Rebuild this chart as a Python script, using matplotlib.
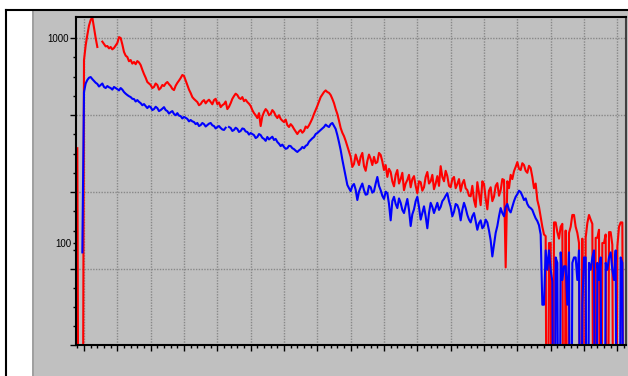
import numpy as np
import matplotlib
matplotlib.use('Agg')
import matplotlib.pyplot as plt
from matplotlib.patches import Rectangle
from matplotlib.lines import Line2D

plt.rcParams['font.family'] = ['Liberation Sans', 'DejaVu Sans']
nan = np.nan

# channel axis (no labels on the original)
channels = np.arange(-20, 1621, 5)

# red spectrum, counts
red = [
    290, 1, 1, 1, 780, 920, 1035, 1150, 1224, 1260,
    1119, 1000, 904, nan, nan, 960, 935, 910, 914, 890,
    904, 880, 894, 920, 945, 1010, 1000, 930, 855, 820,
    808, 770, 781, 750, 764, 745, 772, 760, 738, 700,
    667, 640, 610, 600, 590, 570, 577, 600, 590, 560,
    570, 590, 583, 600, 610, 595, 583, 565, 557, 585,
    604, 620, 638, 660, 653, 620, 590, 560, 539, 515,
    504, 495, 487, 470, 476, 490, 498, 480, 492, 500,
    487, 475, 498, 505, 476, 485, 460, 470, 476, 490,
    450, 462, 481, 505, 521, 535, 527, 510, 504, 515,
    492, 500, 487, 478, 466, 445, 430, 420, 407, 430,
    372, 415, 435, 450, 440, 420, 426, 445, 435, 418,
    407, 420, 403, 395, 389, 400, 376, 368, 380, 372,
    360, 350, 340, 350, 356, 345, 352, 370, 364, 375,
    389, 405, 426, 445, 466, 490, 515, 530, 545, 555,
    545, 540, 527, 505, 481, 450, 426, 395, 364, 345,
    332, 315, 297, 280, 263, 235, 243, 270, 254, 240,
    263, 275, 237, 225, 251, 270, 257, 240, 263, 245,
    248, 275, 269, 250, 227, 240, 210, 230, 222, 200,
    189, 215, 227, 195, 205, 220, 181, 195, 203, 215,
    187, 205, 212, 190, 175, 200, 198, 180, 187, 210,
    222, 195, 200, 215, 183, 195, 212, 190, 237, 210,
    200, 225, 212, 190, 187, 205, 210, 185, 194, 205,
    179, 195, 203, 185, 181, 170, 169, 190, 162, 150,
    198, 175, 153, 200, 194, 165, 146, 180, 187, 160,
    168, 190, 196, 170, 181, 205, 203, 76, 200, 185,
    215, 205, 224, 235, 248, 230, 227, 245, 240, 225,
    220, 238, 232, 210, 185, 195, 162, 150, 134, 120,
    110, 108, 1, 100, 100, 1, 126, 126, 113, 105,
    120, 124, 1, 115, 1, 112, 120, 137, 137, 120,
    112, 100, 1, 105, 1, 106, 125, 137, 130, 124,
    1, 106, 106, 116, 1, 100, 100, 110, 1, 113,
    113, 98, 1, 1, 96, 120, 126, 126, 1,
]

# blue spectrum, counts
blue = [
    nan, nan, nan, 90, 545, 600, 624, 640, 645, 630,
    617, 605, 597, 580, 590, 600, 577, 570, 583, 575,
    570, 560, 577, 570, 563, 555, 570, 560, 545, 535,
    527, 520, 515, 505, 504, 490, 498, 488, 481, 470,
    476, 465, 455, 465, 460, 445, 450, 462, 455, 440,
    445, 452, 460, 445, 440, 428, 435, 440, 426, 420,
    430, 418, 416, 405, 412, 408, 403, 392, 398, 392,
    389, 380, 385, 372, 376, 385, 380, 370, 376, 382,
    385, 375, 372, 362, 368, 372, 364, 358, 356, 365,
    nan, 368, 364, 352, 356, 365, 360, 348, 352, 362,
    360, 350, 348, 338, 344, 340, 336, 325, 329, 340,
    336, 326, 322, 315, 329, 320, 325, 330, 318, 322,
    311, 305, 297, 302, 294, 288, 290, 298, 297, 290,
    287, 282, 278, 283, 287, 294, 290, 298, 301, 312,
    318, 324, 329, 340, 344, 350, 356, 362, 368, 378,
    372, 368, 380, 385, 372, 360, 336, 310, 284, 255,
    232, 210, 192, 185, 179, 190, 194, 182, 162, 178,
    187, 195, 181, 172, 173, 190, 187, 176, 179, 195,
    210, 190, 181, 170, 164, 178, 175, 155, 129, 160,
    168, 155, 148, 165, 157, 145, 140, 152, 164, 145,
    121, 138, 146, 160, 168, 150, 130, 140, 151, 135,
    118, 140, 157, 150, 140, 148, 157, 145, 150, 160,
    164, 170, 175, 160, 150, 135, 142, 155, 153, 145,
    129, 145, 157, 148, 137, 130, 126, 135, 140, 128,
    116, 125, 129, 118, 121, 130, 126, 115, 103, 86,
    98, 112, 121, 135, 148, 140, 135, 150, 155, 145,
    141, 150, 160, 168, 173, 180, 177, 170, 162, 165,
    155, 150, 148, 145, 138, 132, 128, 122, 110, 50,
    50, 92, 74, 92, 74, 65, 1, 85, 80, 1,
    90, 66, 77, 77, 50, 90, 1, 80, 85, 85,
    66, 92, 1, 50, 85, 85, 1, 80, 74, 85,
    92, 1, 80, 66, 85, 1, 1, 80, 74, 85,
    90, 74, 66, 92, 1, 1, 85, 80, 1,
]

ygrid = [31.8, 74.7, 177, 421, 1000]
ygrid_labels = ['', '', '', '', '1000']

W, H = 628, 376
fig = plt.figure(figsize=(W / 100, H / 100), dpi=100)
fig.patch.set_facecolor('white')

# grey panel and outer frame, behind the axes
fig.add_artist(Rectangle((32 / W, 0), 1 - 32 / W, 1 - 11 / H, transform=fig.transFigure,
                         facecolor='#c0c0c0', edgecolor='none', zorder=-10))
fig.add_artist(Line2D([32.5 / W] * 2, [0, 1 - 11 / H], color='#9a9a9a', lw=1.2, zorder=-9))
fig.add_artist(Line2D([6 / W, 1], [1 - 10 / H] * 2, color='black', lw=1.5, zorder=-9))
fig.add_artist(Line2D([6 / W] * 2, [0, 1 - 10 / H], color='black', lw=1.5, zorder=-9))

ax = fig.add_axes([76 / W, 1 - 345 / H, 550 / W, 328 / H])
ax.set_facecolor('#c0c0c0')
ax.set_yscale('log')

ax.plot(channels, red, color='#ff0000', lw=1.5)
ax.plot(channels, blue, color='#0000ff', lw=1.5)

ax.set_xlim(-24, 1626)
ax.set_ylim(31.8, 1266)

ax.set_xticks(np.arange(0, 1601, 100))
ax.set_xticks(np.arange(-20, 1621, 20), minor=True)
ax.set_xticklabels([])

ax.set_yticks(ygrid, ygrid_labels)
ymin = []
for a, b in zip(ygrid[:-1], ygrid[1:]):
    ymin += list(np.geomspace(a, b, 5)[1:-1])
ymin.append(100)
ax.set_yticks(ymin, ['' if v != 100 else '100' for v in ymin], minor=True)

ax.tick_params(axis='both', which='major', direction='out', length=4, width=1,
               labelsize=7, pad=1)
ax.tick_params(axis='both', which='minor', direction='out', length=2, width=1,
               labelsize=7, pad=1)

ax.grid(True, which='major', color='#888888', linestyle=(0, (1, 1)), lw=1)

for s in ax.spines.values():
    s.set_linewidth(1.5)
    s.set_color('black')
ax.spines['right'].set_color('#404040')

fig.savefig('out.png', dpi=100)
